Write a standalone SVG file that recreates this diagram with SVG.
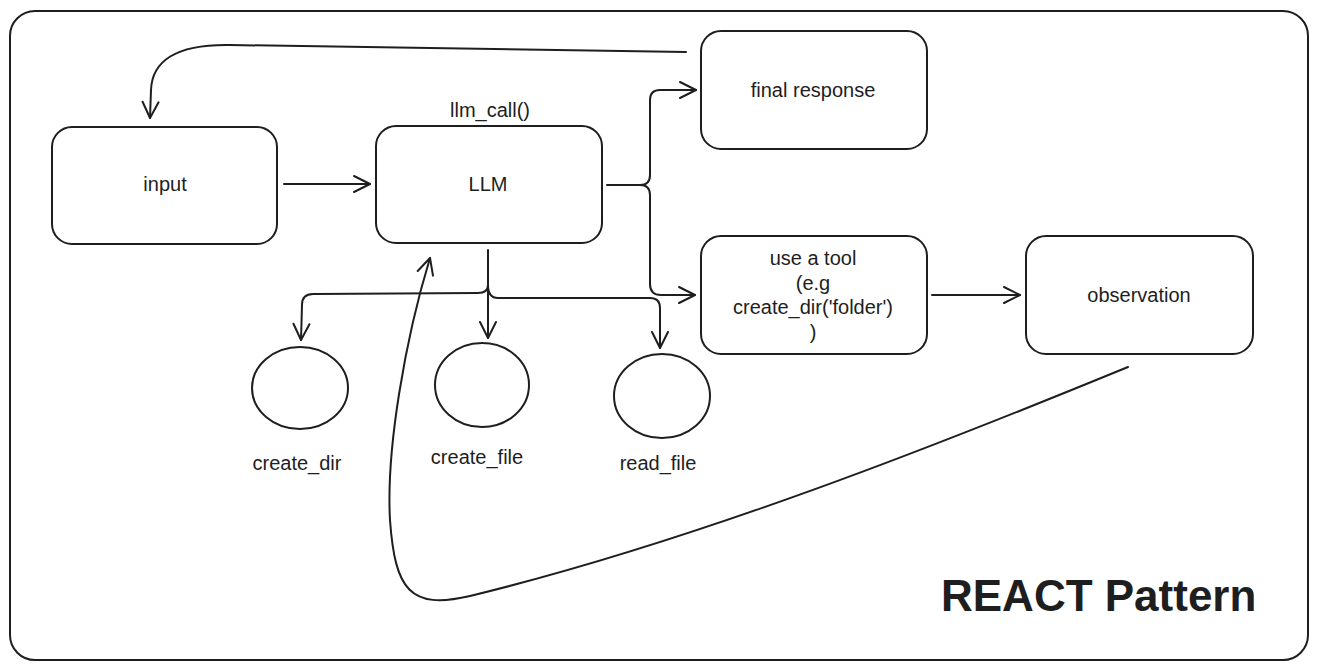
<svg xmlns="http://www.w3.org/2000/svg" width="1318" height="670" viewBox="0 0 1318 670">
<style>
.box{fill:none;stroke:#1e1e1e;stroke-width:2}
.ln{fill:none;stroke:#1e1e1e;stroke-width:2;stroke-linecap:round;stroke-linejoin:round}
.t{font-family:"Liberation Sans",Arial,sans-serif;font-size:20px;fill:#1e1e1e;text-anchor:middle;dominant-baseline:central}
.title{font-family:"Liberation Sans",Arial,sans-serif;font-size:44px;font-weight:bold;fill:#1e1e1e}
</style>
<defs>
<marker id="arr" viewBox="0 0 20 20" refX="18" refY="10" markerWidth="20" markerHeight="20" markerUnits="userSpaceOnUse" orient="auto">
<path d="M2,2 L18,10 L2,18" fill="none" stroke="#1e1e1e" stroke-width="2" stroke-linecap="round" stroke-linejoin="round"/>
</marker>
</defs>
<rect x="0" y="0" width="1318" height="670" fill="#ffffff"/>
<g id="frame"><rect class="box" x="10" y="11" width="1298" height="649" rx="25"/></g>
<g id="connectors">
<path class="ln" d="M284,184 L370,184" marker-end="url(#arr)"/>
<path class="ln" d="M607,185 L640,185 Q650,185 650,175 L650,100 Q650,90 660,90 L696,90" marker-end="url(#arr)"/>
<path class="ln" d="M640,185 Q650,185 650,195 L650,284 Q650,295 661,295 L695,295" marker-end="url(#arr)"/>
<path class="ln" d="M932,295 L1020,295" marker-end="url(#arr)"/>
<path class="ln" d="M686,52 L230,45 C175,44 152,62 151,90 L150,118" marker-end="url(#arr)"/>
<path class="ln" d="M488,250 L488,285 Q488,293 478,293 L313,294 Q302,294 302,305 L301,340" marker-end="url(#arr)"/>
<path class="ln" d="M488,285 L488,338" marker-end="url(#arr)"/>
<path class="ln" d="M488,285 Q488,298 498,298 L650,298 Q660,298 660,308 L660,348" marker-end="url(#arr)"/>
<path class="ln" d="M1128,367 C950,440 700,540 470,596 C410,610 395,590 390,520 C386,450 405,340 430,258" marker-end="url(#arr)"/>
</g>
<g id="input"><rect class="box" x="52" y="127" width="225" height="117" rx="20"/><text class="t" x="165" y="184">input</text></g>
<g id="llm"><rect class="box" x="376" y="126" width="226" height="117" rx="20"/><text class="t" x="488" y="184">LLM</text><text class="t" x="490" y="110">llm_call()</text></g>
<g id="final"><rect class="box" x="701" y="31" width="226" height="118" rx="20"/><text class="t" x="813" y="90">final response</text></g>
<g id="tool"><rect class="box" x="701" y="236" width="226" height="118" rx="20"/>
<text class="t" x="813" y="258">use a tool</text><text class="t" x="813" y="283">(e.g</text><text class="t" x="813" y="307">create_dir('folder')</text><text class="t" x="813" y="332">)</text></g>
<g id="observation"><rect class="box" x="1026" y="236" width="227" height="118" rx="20"/><text class="t" x="1139" y="295">observation</text></g>
<g id="create_dir"><ellipse class="box" cx="300" cy="388" rx="48" ry="41"/><text class="t" x="297" y="463">create_dir</text></g>
<g id="create_file"><ellipse class="box" cx="482" cy="385" rx="47" ry="42"/><text class="t" x="477" y="457">create_file</text></g>
<g id="read_file"><ellipse class="box" cx="662" cy="396" rx="48" ry="42"/><text class="t" x="658" y="463">read_file</text></g>
<g id="title"><text class="title" x="941" y="611">REACT Pattern</text></g>
</svg>
